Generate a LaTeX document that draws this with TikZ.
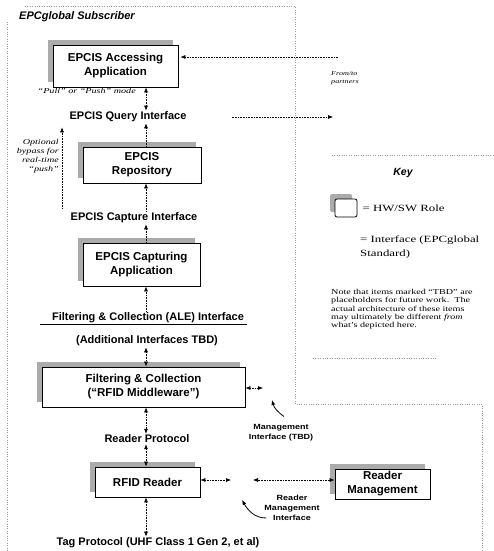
\documentclass[tikz,border=0pt]{standalone}
\usepackage{fontspec}
\setmainfont{Liberation Serif}
\setsansfont{Liberation Sans}
\newfontfamily\widesans[FakeStretch=1.2]{Liberation Sans}
\newfontfamily\wideserif[FakeStretch=1.35]{Liberation Serif}
\usetikzlibrary{arrows.meta,positioning,shadows}
\definecolor{Shade}{HTML}{ABABAB}
\definecolor{Frame}{HTML}{9A9A9A}

\begin{document}
\begin{tikzpicture}[x=1pt,y=-1pt,>={Latex[length=5pt,width=4pt]},
role/.style={draw,thick,fill=white,inner sep=0pt,align=center,font=\sffamily\bfseries\fontsize{11.5}{14}\selectfont,
  general shadow={fill=Shade,shadow xshift=-5pt,shadow yshift=5pt}},
iface/.style={inner sep=1pt,font=\sffamily\bfseries\fontsize{11}{13}\selectfont},
conn/.style={<->,densely dotted,semithick},
up/.style={->,densely dotted,semithick},
call/.style={->,thick},
tiny/.style={inner sep=0pt,align=center,font=\widesans\bfseries\fontsize{7.5}{10}\selectfont},
remark/.style={inner sep=0pt,font=\wideserif\itshape\fontsize{7.5}{9}\selectfont},
keytext/.style={inner sep=0pt,align=left,font=\wideserif\fontsize{9.5}{14}\selectfont},
frame/.style={Frame,dotted,thin}]
\useasboundingbox (0,0) rectangle (494,551);

% dotted frames
\draw[frame] (25,6) -- (295,6) -- (295,404) -- (482,404) -- (482,551);
\draw[frame] (7,22) -- (7,551);
\draw[frame] (332,155) -- (494,155);
\draw[frame] (313,358) -- (437,358);

\node[anchor=west,inner sep=0pt,font=\sffamily\bfseries\itshape\fontsize{11}{13}\selectfont] (sub) at (19,17) {EPCglobal Subscriber};

% main column
\coordinate (ax) at (146,0);
\coordinate (bx) at (62,0);
\node[role,minimum width=125pt,minimum height=42pt] (acc) at (115.5,66) {EPCIS Accessing\\Application};
\node[iface] (query) at (128,117) {EPCIS Query Interface};
\node[role,minimum width=118pt,minimum height=36pt] (repo) at (142,165) {EPCIS\\Repository};
\node[iface] (capif) at (134,218) {EPCIS Capture Interface};
\node[role,minimum width=117pt,minimum height=43pt] (capt) at (141.5,264.5) {EPCIS Capturing\\Application};
\node[iface] (ale) at (148,318) {Filtering \& Collection (ALE) Interface};
\node[iface] (tbd) at (147,341) {(Additional Interfaces TBD)};
\node[role,minimum width=203pt,minimum height=40pt] (fc) at (143.5,387) {Filtering \& Collection\\(“RFID Middleware”)};
\node[iface] (rproto) at (147,439) {Reader Protocol};
\node[role,minimum width=105pt,minimum height=30pt] (rdr) at (147.5,482) {RFID Reader};
\node[role,minimum width=95pt,minimum height=30pt] (rmg) at (382.5,484) {Reader\\Management};
\node[iface] (tag) at (158,543) {Tag Protocol (UHF Class 1 Gen 2, et al)};

\node[remark,anchor=east] (mode) at (136,91) {“Pull” or “Push” mode};
\node[remark,anchor=north east,align=right] (bypass) at (59,139) {Optional\\bypass for\\real-time\\“push”};
\node[remark,anchor=north west,align=left,font=\wideserif\itshape\fontsize{6}{8}\selectfont] (partn) at (331,71) {From/to\\partners};

\draw[conn] (acc.south -| ax) -- (query.north -| ax);
\draw[up,shorten <=3pt,shorten >=4pt] (capif.north -| bx) -- (query.south -| bx);
\draw[up] (repo.north -| ax) -- (query.south -| ax);
\draw[up] (capif.north -| ax) -- (repo.south -| ax);
\draw[up] (capt.north -| ax) -- (capif.south -| ax);
\draw[up] (ale.north -| ax) -- (capt.south -| ax);
\draw[thick] ([xshift=-11pt]ale.south west) -- ([xshift=2pt]ale.south east);
\draw[conn] (tbd.south -| ax) -- (fc.north -| ax);
\draw[conn] (fc.south -| ax) -- (rproto.north -| ax);
\draw[conn] (rproto.south -| ax) -- (rdr.north -| ax);
\draw[conn] (rdr.south -| ax) -- (tag.north -| ax);

% links to partners and management
\coordinate (accin) at (338,57);
\coordinate (qend) at (333,117);
\draw[<-,densely dotted,semithick,shorten <=2pt] (acc.east |- accin) -- (accin);
\draw[->,densely dotted,semithick,shorten <=44pt] (query.east) -- (qend);

\coordinate (fcend) at (263,388);
\draw[conn] (fc.east |- fcend) -- (fcend);
\node[tiny] (mgif) at (281,433) {Management\\Interface (TBD)};
\coordinate (mgtip) at (272,400);
\draw[call] ([xshift=3pt,yshift=8pt]mgif.north) to[out=145,in=-75] (mgtip);

\coordinate (rdrend) at (231,480);
\coordinate (rmgend) at (253,480);
\draw[conn] (rdr.east |- rdrend) -- (rdrend);
\draw[conn] (rmg.west |- rmgend) -- (rmgend);
\node[tiny] (rmif) at (292,508) {Reader\\Management\\Interface};
\coordinate (rtip) at (242,500);
\draw[call] ([xshift=2pt,yshift=-10pt]rmif.west) to[out=180,in=-60] (rtip);

% key
\node[inner sep=0pt,font=\sffamily\bfseries\itshape\fontsize{10.5}{12}\selectfont] (key) at (403,173) {Key};
\node[role,rounded corners=2pt,minimum width=22pt,minimum height=18pt] (keybox) at (346,208) {};
\node[keytext,right=5pt of keybox] (hwsw) {= HW/SW Role};
\node[keytext,anchor=north west] (ifkey) at (360,236) {= Interface (EPCglobal\\Standard)};
\node[inner sep=0pt,anchor=north west,align=left,font=\wideserif\fontsize{7.5}{8.3}\selectfont] (note) at (331,289)
  {Note that items marked “TBD” are\\placeholders for future work.\ \ The\\actual architecture of these items\\may ultimately be different \textit{from}\\what’s depicted here.};
\end{tikzpicture}
\end{document}
